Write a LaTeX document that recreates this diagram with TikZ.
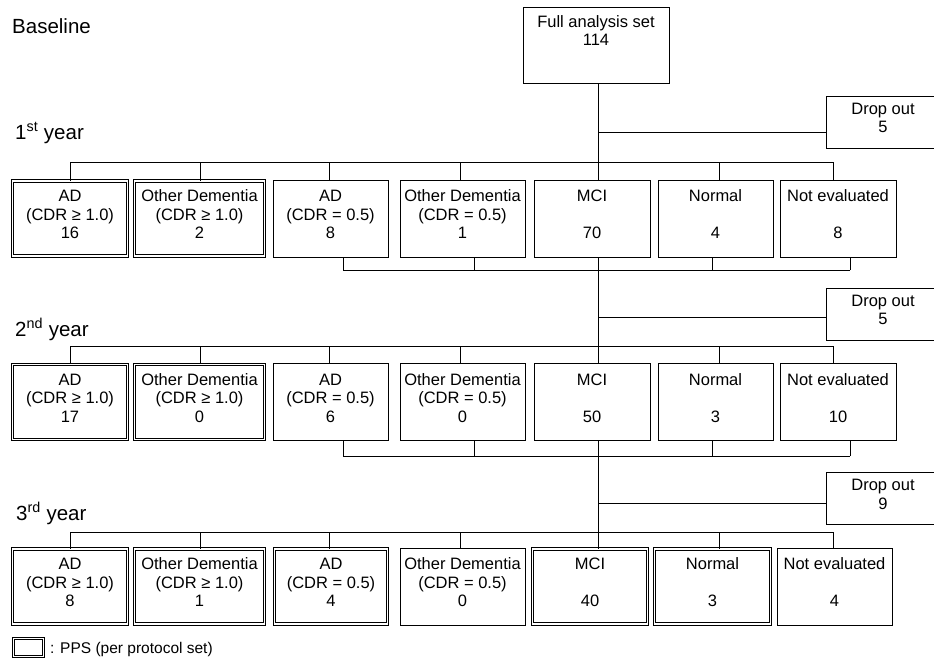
\documentclass[tikz,border=0pt]{standalone}
\usepackage{fontspec}
\setmainfont{Liberation Sans}
\newcommand\mkcell[5]{%
  \node[#1, minimum width=#2pt] (#3) at (#4) {};
  \node[txt] (t#3) at ([yshift=4pt]#3.center) {#5};}
\begin{document}
\begin{tikzpicture}[x=1pt,y=-1pt,
  ln/.style={line width=0.8pt},
  sbox/.style={draw, line width=0.8pt, inner sep=0pt, minimum height=77pt},
  dbox/.style={draw, line width=0.8pt, inner sep=0pt, minimum height=75pt, double, double distance=1.5pt},
  txt/.style={font=\fontsize{16.5}{18.5}\selectfont, align=center, inner sep=0pt},
  lab/.style={font=\fontsize{20.5}{24}\selectfont, inner sep=0pt, anchor=base west},
]
\useasboundingbox (0,0) rectangle (934,667);

% labels
\node[lab] (lb0) at (12,33) {Baseline};
\node[lab] (lb1) at (15,139) {1\textsuperscript{st} year};
\node[lab] (lb2) at (15,336) {2\textsuperscript{nd} year};
\node[lab] (lb3) at (16,520) {3\textsuperscript{rd} year};

% full analysis set
\node[sbox, minimum width=146pt, minimum height=76pt] (fas) at (596,45) {};
\node[txt, anchor=north] (tfas) at (596,15) {Full analysis set\\114};

% drop outs
\node[sbox, minimum width=114pt, minimum height=52pt] (do1) at (883,122) {};
\node[txt] (tdo1) at ([yshift=4pt]do1.center) {Drop out\\5};
\node[sbox, minimum width=114pt, minimum height=52pt] (do2) at (883,314) {};
\node[txt] (tdo2) at ([yshift=4pt]do2.center) {Drop out\\5};
\node[sbox, minimum width=114pt, minimum height=52pt] (do3) at (883,498.5) {};
\node[txt] (tdo3) at ([yshift=4pt]do3.center) {Drop out\\9};

% row 1
\mkcell{dbox}{115}{r1c1}{70,218.5}{AD\\(CDR ≥ 1.0)\\16}
\mkcell{dbox}{130}{r1c2}{199.5,218.5}{Other Dementia\\(CDR ≥ 1.0)\\2}
\mkcell{sbox}{115}{r1c3}{330.5,218.5}{AD\\(CDR = 0.5)\\8}
\mkcell{sbox}{125}{r1c4}{462.5,218.5}{Other Dementia\\(CDR = 0.5)\\1}
\mkcell{sbox}{116}{r1c5}{592,218.5}{MCI\\~\\70}
\mkcell{sbox}{115}{r1c6}{715.5,218.5}{Normal\\~\\4}
\mkcell{sbox}{116}{r1c7}{838,218.5}{Not evaluated\\~\\8}

% row 2
\mkcell{dbox}{115}{r2c1}{70,402}{AD\\(CDR ≥ 1.0)\\17}
\mkcell{dbox}{130}{r2c2}{199.5,402}{Other Dementia\\(CDR ≥ 1.0)\\0}
\mkcell{sbox}{115}{r2c3}{330.5,402}{AD\\(CDR = 0.5)\\6}
\mkcell{sbox}{125}{r2c4}{462.5,402}{Other Dementia\\(CDR = 0.5)\\0}
\mkcell{sbox}{116}{r2c5}{592,402}{MCI\\~\\50}
\mkcell{sbox}{115}{r2c6}{715.5,402}{Normal\\~\\3}
\mkcell{sbox}{116}{r2c7}{838,402}{Not evaluated\\~\\10}

% row 3
\mkcell{dbox}{115}{r3c1}{70,586.5}{AD\\(CDR ≥ 1.0)\\8}
\mkcell{dbox}{130}{r3c2}{199.5,586.5}{Other Dementia\\(CDR ≥ 1.0)\\1}
\mkcell{dbox}{113}{r3c3}{331,586.5}{AD\\(CDR = 0.5)\\4}
\mkcell{sbox}{125}{r3c4}{462.5,586.5}{Other Dementia\\(CDR = 0.5)\\0}
\mkcell{dbox}{115}{r3c5}{590,586.5}{MCI\\~\\40}
\mkcell{dbox}{116}{r3c6}{712.5,586.5}{Normal\\~\\3}
\mkcell{sbox}{115}{r3c7}{834.5,586.5}{Not evaluated\\~\\4}

% trunk coordinates
\coordinate (d1) at (598,132);
\coordinate (j1) at (598,162);
\coordinate (m1) at (598,270);
\coordinate (d2) at (598,317);
\coordinate (j2) at (598,346);
\coordinate (m2) at (598,456);
\coordinate (d3) at (598,503);
\coordinate (j3) at (598,532);

\draw[ln] (fas.south -| j1) -- (j1);
\draw[ln] (d1) -- (d1 -| do1.west);
\draw[ln] (m1) -- (j2);
\draw[ln] (d2) -- (d2 -| do2.west);
\draw[ln] (m2) -- (j3);
\draw[ln] (d3) -- (d3 -| do3.west);

% branch lines
\foreach \rw/\yb in {1/162, 2/346, 3/532} {
  \coordinate (bl) at (70,\yb);
  \coordinate (br) at (833,\yb);
  \draw[ln] (bl) -- (br);
  \foreach \i/\tx in {1/70,2/200,3/329,4/460,5/598,6/719,7/833} {
    \coordinate (tk) at (\tx,\yb);
    \draw[ln] (tk) -- (tk |- r\rw c\i.north);
  }
}

% merge lines
\foreach \rw/\ym in {1/270, 2/456} {
  \coordinate (ml) at (343,\ym);
  \coordinate (mr) at (850,\ym);
  \draw[ln] (ml) -- (mr);
  \foreach \i/\tx in {3/343,4/474,5/598,6/712,7/850} {
    \coordinate (tk) at (\tx,\ym);
    \draw[ln] (tk) -- (tk |- r\rw c\i.south);
  }
}

% legend
\node[dbox, minimum width=30pt, minimum height=18pt] (leg) at (28.5,647.5) {};
\node[font=\fontsize{15.5}{19}\selectfont, anchor=base west, inner sep=0pt] (tleg) at (50,653) {: PPS (per protocol set)};
\end{tikzpicture}
\end{document}
